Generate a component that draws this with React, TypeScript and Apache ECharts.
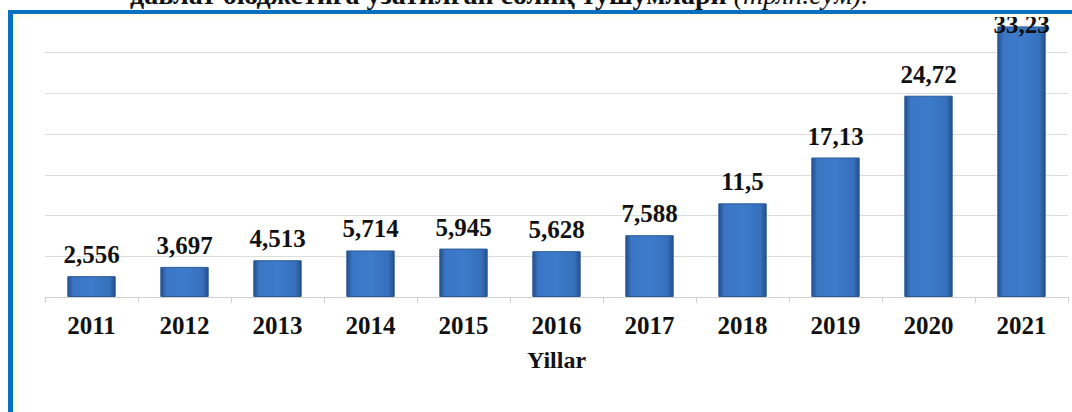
import React, { useEffect, useRef } from "react";
import * as echarts from "echarts";

const years = ["2011", "2012", "2013", "2014", "2015", "2016", "2017", "2018", "2019", "2020", "2021"];
const taxRevenue = [2.556, 3.697, 4.513, 5.714, 5.945, 5.628, 7.588, 11.5, 17.13, 24.72, 33.23];
const axisName = "Yillar";
const titleMain = "давлат бюджетига узатилган солиқ тушумлари";
const titleUnit = "(трлн.сўм).";

const SERIF = "Liberation Serif";

export default function App() {
  const ref = useRef<HTMLDivElement>(null);
  useEffect(() => {
    if (!ref.current) return;
    const chart = echarts.init(ref.current, null, { renderer: "svg" });
    const barColor = new echarts.graphic.LinearGradient(0, 0, 1, 0, [
      { offset: 0, color: "#244f8c" },
      { offset: 0.12, color: "#3a76c4" },
      { offset: 0.5, color: "#3d7bcb" },
      { offset: 0.88, color: "#3670bb" },
      { offset: 1, color: "#244f8c" },
    ]);
    const data = taxRevenue.map((v, i) => {
      const item: any = { value: v };
      if (i === taxRevenue.length - 1) {
        item.label = { position: "insideTop", distance: 0, offset: [0, -14] };
      }
      return item;
    });
    chart.setOption({
      animation: false,
      backgroundColor: "#ffffff",
      grid: { left: 45, right: 4, top: 12, bottom: 115, containLabel: false },
      xAxis: {
        type: "category",
        data: years,
        name: axisName,
        nameLocation: "middle",
        nameGap: 51,
        nameTextStyle: { fontFamily: SERIF, fontWeight: "bold", fontSize: 24, color: "#111" },
        axisLine: { show: true, lineStyle: { color: "#d0d0d0", width: 1 } },
        axisTick: { show: true, length: 6, lineStyle: { color: "#d0d0d0" } },
        axisLabel: { margin: 16, fontFamily: SERIF, fontWeight: "bold", fontSize: 25, color: "#111" },
      },
      yAxis: {
        type: "value",
        min: 0,
        max: 35,
        interval: 5,
        axisLabel: { show: false },
        axisLine: { show: false },
        axisTick: { show: false },
        splitLine: { show: true, lineStyle: { color: "#dcdcdc", width: 1 } },
      },
      series: [
        {
          type: "bar",
          data,
          barWidth: "52%",
          itemStyle: { color: barColor, borderColor: "#2a5897", borderWidth: 1 },
          label: {
            show: true,
            position: "top",
            distance: 9,
            fontFamily: SERIF,
            fontWeight: "bold",
            fontSize: 25,
            color: "#111",
            formatter: (p: any) => String(p.value).replace(".", ","),
          },
        },
      ],
      graphic: [
        {
          type: "text",
          left: 130,
          top: -20,
          z: 10,
          style: {
            text: `{m|${titleMain} }{u|${titleUnit}}`,
            rich: {
              m: { fontFamily: SERIF, fontWeight: "bold", fontSize: 28, fill: "#111" },
              u: { fontFamily: SERIF, fontStyle: "italic", fontSize: 28, fill: "#111" },
            },
          },
        },
        {
          type: "rect",
          z: 20,
          shape: { x: 8, y: 10, width: 1064, height: 4 },
          style: { fill: "#0a70c0" },
        },
        {
          type: "rect",
          z: 20,
          shape: { x: 8, y: 10, width: 5, height: 402 },
          style: { fill: "#0a70c0" },
        },
        {
          type: "rect",
          z: 19,
          shape: { x: 13, y: 14, width: 1059, height: 3 },
          style: { fill: "#fffbe8" },
        },
        {
          type: "rect",
          z: 19,
          shape: { x: 13, y: 14, width: 4, height: 398 },
          style: { fill: "#fffbe8" },
        },
      ],
    });
    return () => chart.dispose();
  }, []);
  return (
    <div
      ref={ref}
      style={{ position: "fixed", left: 0, top: 0, width: 1072, height: 412 }}
    />
  );
}
